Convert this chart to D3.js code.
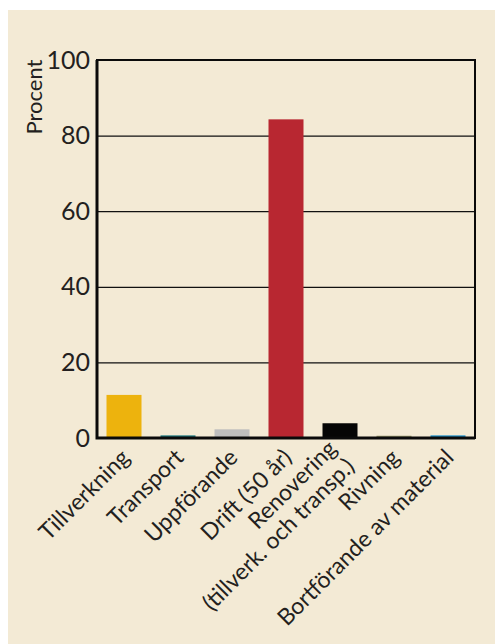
<!DOCTYPE html>
<html>
<head>
<meta charset="utf-8">
<script src="https://cdn.jsdelivr.net/npm/d3@7"></script>
<style>
  body { margin: 0; background: #fff; }
  svg { display: block; }
  text { font-family: Futura, "Century Gothic", Lato, sans-serif; fill: #231f20; }
</style>
</head>
<body>
<svg width="495" height="644"></svg>
<script>
// categories (second line for the long one)
var categories = ["Tillverkning", "Transport", "Uppförande", "Drift (50 år)", "Renovering", "Rivning", "Bortförande av material"];
var subLabels = ["", "", "", "", "(tillverk. och transp.)", "", ""];
var values = [11.4, 0.7, 2.3, 84.3, 3.9, 0.6, 0.7];
var barColors = ["#edb30d", "#1f7b80", "#bebebe", "#b82731", "#050505", "#9b9a6e", "#1d90cb"];
var yTicks = [0, 20, 40, 60, 80, 100];

var svg = d3.select("svg");

svg.append("rect")
  .attr("x", 8).attr("y", 10)
  .attr("width", 487).attr("height", 634)
  .attr("fill", "#f3ead5");

var pLeft = 97, pRight = 475, pTop = 60, pBottom = 438;

var x = d3.scaleBand()
  .domain(categories)
  .range([pLeft, pRight])
  .paddingInner(0.352)
  .paddingOuter(0.176);

var y = d3.scaleLinear()
  .domain([0, 100])
  .range([pBottom, pTop]);

// gridlines + tick labels
var yAxis = svg.append("g")
  .attr("transform", "translate(" + pLeft + ",0)")
  .call(d3.axisLeft(y).tickValues(yTicks).tickSize(-(pRight - pLeft)).tickPadding(7));

yAxis.select(".domain").remove();
yAxis.selectAll(".tick line")
  .attr("stroke", "#111")
  .attr("stroke-width", 1.2);
yAxis.selectAll(".tick text")
  .attr("font-size", 25)
  .attr("fill", "#231f20")
  .style("font-family", "Futura, 'Century Gothic', Lato, sans-serif");

// bars
svg.append("g")
  .selectAll("rect")
  .data(values)
  .enter().append("rect")
  .attr("x", function(d, i) { return x(categories[i]); })
  .attr("y", function(d) { return y(d); })
  .attr("width", x.bandwidth())
  .attr("height", function(d) { return y(0) - y(d); })
  .attr("fill", function(d, i) { return barColors[i]; });

// frame
svg.append("rect")
  .attr("x", pLeft).attr("y", pTop)
  .attr("width", pRight - pLeft).attr("height", pBottom - pTop)
  .attr("fill", "none")
  .attr("stroke", "#0a0a0a")
  .attr("stroke-width", 2);

svg.append("path")
  .attr("d", "M" + pLeft + "," + pTop + "V" + pBottom + "H" + pRight)
  .attr("fill", "none")
  .attr("stroke", "#0a0a0a")
  .attr("stroke-width", 3);

// x labels, rotated
var xl = svg.append("g")
  .selectAll("text")
  .data(categories)
  .enter().append("text")
  .attr("transform", function(d) {
    return "translate(" + (x(d) + x.bandwidth() / 2 + 7) + ",459) rotate(-45)";
  })
  .attr("text-anchor", "end")
  .attr("font-size", 23);

// two-line label is centred on its anchor
xl.append("tspan")
  .attr("x", 0)
  .attr("dy", function(d, i) { return subLabels[i] != "" ? "-0.55em" : 0; })
  .text(function(d) { return d; });

xl.filter(function(d, i) { return subLabels[i] != ""; })
  .append("tspan")
  .attr("x", 0)
  .attr("dy", "1.1em")
  .text(function(d) { return subLabels[categories.indexOf(d)]; });

// y title
svg.append("text")
  .attr("transform", "translate(42,97) rotate(-90)")
  .attr("text-anchor", "middle")
  .attr("font-size", 22)
  .text("Procent");
</script>
</body>
</html>
